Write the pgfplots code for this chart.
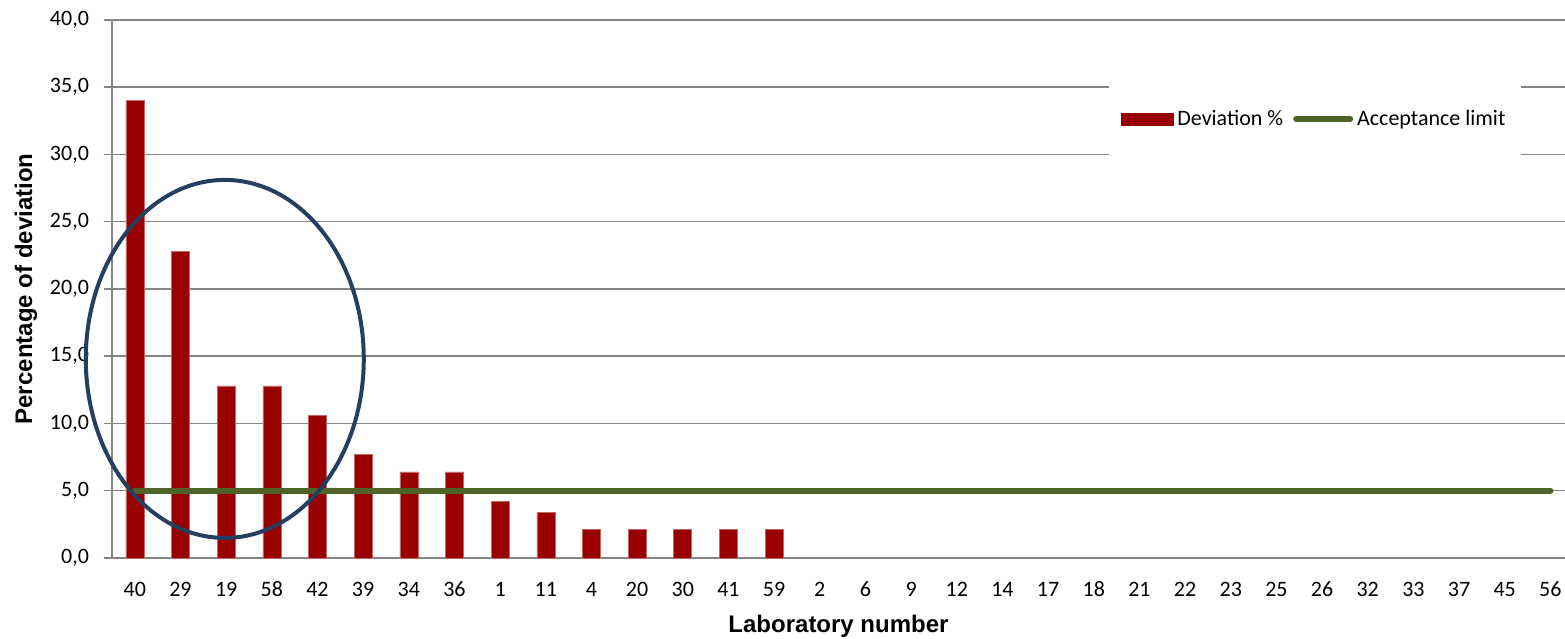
\documentclass[border=0pt]{standalone}
\usepackage{fontspec}
\setmainfont{Carlito}
\newfontfamily\arialfont{Liberation Sans}
\usepackage{pgfplots}
\pgfplotsset{compat=1.18}
\definecolor{barred}{HTML}{990000}
\definecolor{limgreen}{HTML}{4F6228}
\definecolor{ellblue}{HTML}{243F60}
\definecolor{gridgray}{HTML}{868686}
\begin{document}
\begin{tikzpicture}
\begin{axis}[
  name=ax,
  scale only axis,
  width=726.5pt, height=269pt,
  xmin=-0.5, xmax=31.32,
  ymin=0, ymax=40,
  ytick={0,5,...,40},
  xtick={0,...,31},
  xticklabels={40,29,19,58,42,39,34,36,1,11,4,20,30,41,59,2,6,9,12,14,17,18,21,22,23,25,26,32,33,37,45,56},
  axis x line=bottom, axis y line=left,
  axis line style={draw=gridgray, line width=0.75pt, -},
  ymajorgrids,
  grid style={draw=gridgray, line width=0.75pt},
  tick align=outside,
  major tick length=4pt,
  x tick style={draw=none},
  y tick style={draw=gridgray, line width=0.75pt},
  tick label style={font=\fontsize{11}{13}\selectfont, text=black},
  yticklabel style={xshift=-4pt},
  xticklabel style={yshift=-4pt, text height=1.6ex, text depth=0.2ex},
  /pgf/number format/.cd, fixed, fixed zerofill, precision=1, use comma, assume math mode=true,
  /pgfplots/.cd,
  xlabel={\arialfont\bfseries Laboratory number},
  ylabel={\arialfont\bfseries Percentage of deviation},
  label style={font=\fontsize{12}{14}\selectfont},
  xlabel style={at={(axis description cs:0.5,0)}, anchor=center, yshift=-34pt},
  ylabel style={at={(axis description cs:0,0.5)}, anchor=center, yshift=43pt},
  legend style={at={(rel axis cs:0.828,0.816)}, anchor=center, draw=none, fill=white,
    legend columns=2, font=\fontsize{11}{13}\selectfont,
    inner xsep=6pt, inner ysep=13pt,
    /tikz/every even column/.append style={column sep=3pt}},
  clip=false,
]
\addplot[ybar, bar width=9pt, fill=barred, draw=barred!60, line width=0.3pt,
  legend image code/.code={\fill[barred] (0pt,-3pt) rectangle (26pt,3pt);}]
  coordinates {(0,34.0) (1,22.8) (2,12.8) (3,12.8) (4,10.6) (5,7.7) (6,6.4) (7,6.4)
   (8,4.2) (9,3.4) (10,2.1) (11,2.1) (12,2.1) (13,2.1) (14,2.1)};
\addlegendentry{Deviation \%}
\addplot[limgreen, line width=3pt, line cap=round,
  legend image code/.code={\draw[limgreen, line width=3pt, line cap=round] (0pt,0pt) -- (27pt,0pt);}]
  coordinates {(0,5) (31,5)};
\addlegendentry{Acceptance limit}
\draw[ellblue, line width=2pt] (axis cs:1.97,14.8) ellipse [x radius=69.5pt, y radius=89.5pt];
\end{axis}
\pgfresetboundingbox
\path (ax.south west) ++(-56pt,-40.5pt) rectangle (ax.north east) ++(0pt,10pt);
\end{tikzpicture}
\end{document}
